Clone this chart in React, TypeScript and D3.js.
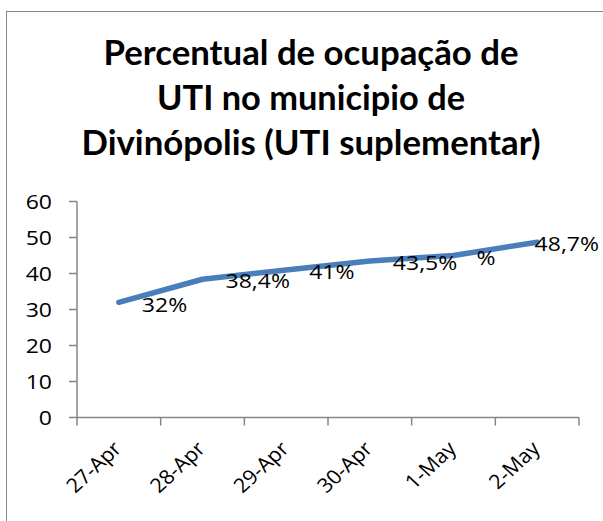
import React, { useEffect, useRef } from "react";
import * as d3 from "d3";

const categories = ["27-Apr", "28-Apr", "29-Apr", "30-Apr", "1-May", "2-May"];
const values = [32, 38.4, 41, 43.5, 45, 48.7];
const dataLabels = ["32%", "38,4%", "41%", "43,5%", "%", "48,7%"];
const yTicks = [0, 10, 20, 30, 40, 50, 60];
const titleLines = [
  "Percentual de ocupação de",
  "UTI no municipio de",
  "Divinópolis (UTI suplementar)",
];
const titleWidths = [415, 308, 459];

const W = 603;
const H = 521;
const TITLE_FONT = "Lato, 'Open Sans', sans-serif";
const FONT = "'Open Sans', 'Noto Sans', sans-serif";
const SX = 1.15;

export default function App() {
  const ref = useRef<SVGSVGElement | null>(null);

  useEffect(() => {
    const svg = d3.select(ref.current);
    svg.selectAll("*").remove();

    const x = d3.scaleBand<string>().domain(categories).range([77, 579]).padding(0);
    const y = d3.scaleLinear().domain([0, 60]).range([417.5, 201.5]);
    const cx = (c: string) => (x(c) as number) + x.bandwidth() / 2;

    // chart border
    svg.append("rect")
      .attr("x", 6.5).attr("y", 11.5).attr("width", 700).attr("height", 700)
      .attr("fill", "#fff").attr("stroke", "#878787").attr("stroke-width", 1);

    // title
    svg.append("g").selectAll("text").data(titleLines).join("text")
      .attr("x", 311)
      .attr("y", (_d, i) => 64.5 + i * 45)
      .attr("text-anchor", "middle")
      .attr("font-family", TITLE_FONT)
      .attr("font-weight", 700)
      .attr("font-size", 34)
      .attr("textLength", (_d, i) => titleWidths[i])
      .attr("lengthAdjust", "spacingAndGlyphs")
      .attr("fill", "#000")
      .text((d) => d);

    const axisColor = "#868686";
    // y axis
    const ya = svg.append("g");
    ya.append("line").attr("x1", 77).attr("x2", 77).attr("y1", y(60)).attr("y2", y(0))
      .attr("stroke", axisColor).attr("stroke-width", 1.5);
    ya.selectAll("line.t").data(yTicks).join("line").attr("class", "t")
      .attr("x1", 69).attr("x2", 77).attr("y1", (d) => y(d)).attr("y2", (d) => y(d))
      .attr("stroke", axisColor).attr("stroke-width", 1.5);
    ya.selectAll("text").data(yTicks).join("text")
      .attr("transform", (d) => `translate(52,${y(d)}) scale(${SX},1)`)
      .attr("dy", "0.36em")
      .attr("text-anchor", "end")
      .attr("font-family", FONT).attr("font-size", 20).attr("fill", "#000")
      .text((d) => String(d));

    // x axis
    const xa = svg.append("g");
    xa.append("line").attr("x1", 77).attr("x2", 579).attr("y1", y(0)).attr("y2", y(0))
      .attr("stroke", axisColor).attr("stroke-width", 1.5);
    const bounds = categories.map((c) => x(c) as number).concat([x.range()[1]]);
    xa.selectAll("line.t").data(bounds).join("line").attr("class", "t")
      .attr("x1", (d) => d).attr("x2", (d) => d).attr("y1", y(0)).attr("y2", y(0) + 8)
      .attr("stroke", axisColor).attr("stroke-width", 1.5);
    xa.selectAll("text").data(categories).join("text")
      .attr("transform", (d) => `translate(${cx(d) + 4},450) scale(1.08,1) rotate(-45)`)
      .attr("text-anchor", "end")
      .attr("font-family", FONT).attr("font-size", 20).attr("fill", "#000")
      .text((d) => d);

    // line
    const line = d3.line<number>()
      .x((_d, i) => cx(categories[i]))
      .y((d) => y(d));
    svg.append("path").datum(values)
      .attr("d", line)
      .attr("fill", "none")
      .attr("stroke", "#4A7EBB")
      .attr("stroke-width", 5.5)
      .attr("stroke-linejoin", "round")
      .attr("stroke-linecap", "round");

    // data labels
    const lg = svg.append("g");
    values.forEach((v, i) => {
      const t = lg.append("text")
        .attr("font-family", FONT).attr("font-size", 20).attr("fill", "#000")
        .attr("dy", "0.36em")
        .text(dataLabels[i]);
      const w = (t.node() as SVGTextElement).getComputedTextLength() * SX;
      let lx = cx(categories[i]) + 23;
      if (lx + w > 599) lx = 599 - w;
      t.attr("transform", `translate(${lx},${y(v) + 2}) scale(${SX},1)`);
    });
  }, []);

  return (
    <svg
      ref={ref}
      width={W}
      height={H}
      style={{ position: "fixed", left: 0, top: 0, background: "#fff" }}
    />
  );
}
